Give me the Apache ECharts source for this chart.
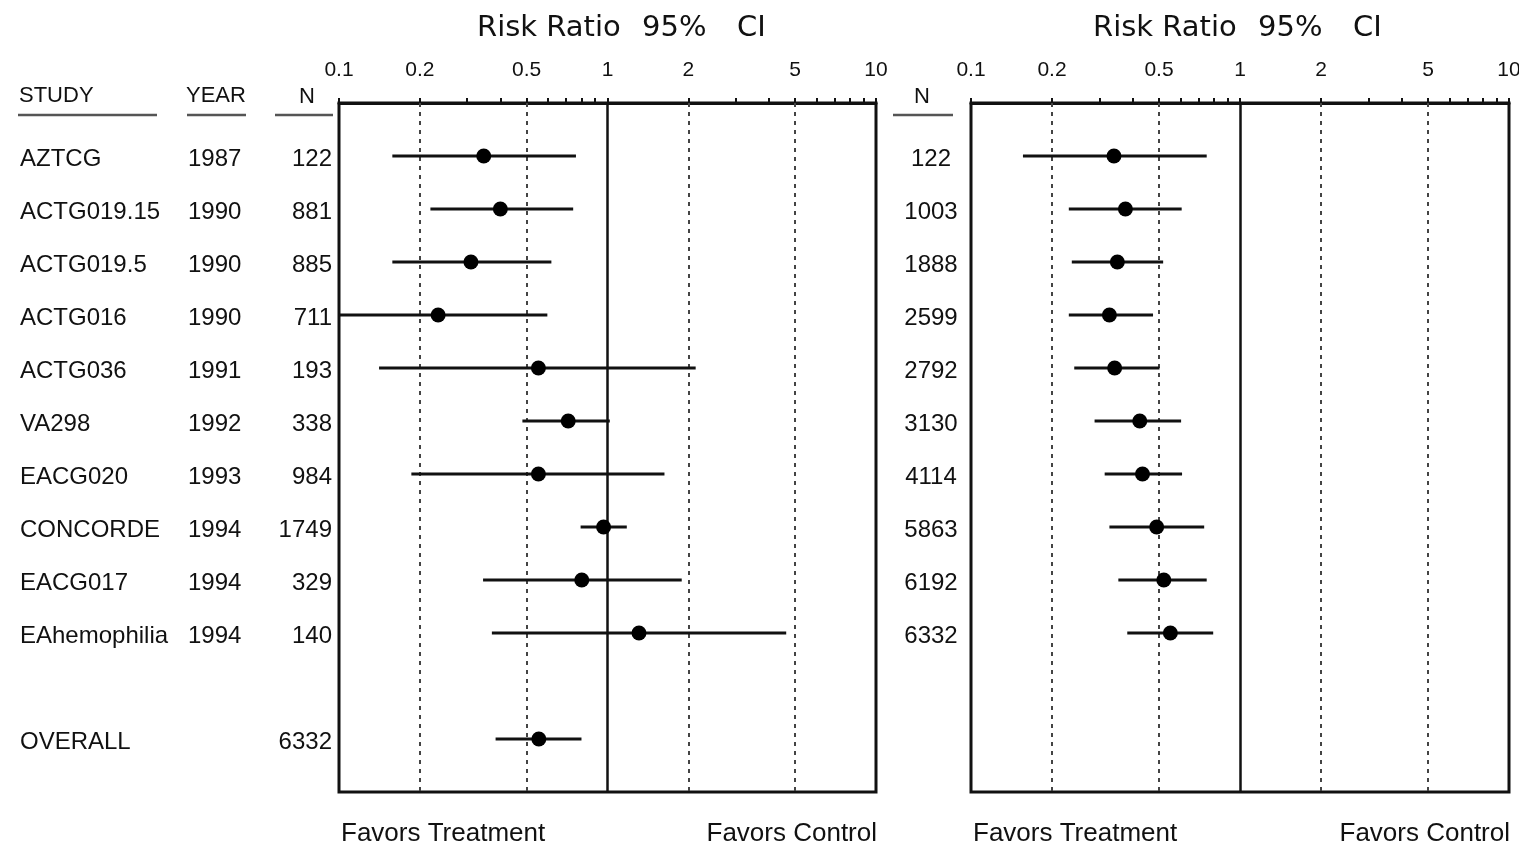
<!DOCTYPE html>
<html>
<head>
<meta charset="utf-8">
<script src="https://cdn.jsdelivr.net/npm/echarts@6/dist/echarts.min.js"></script>
<style>
html,body{margin:0;padding:0;background:#fff;overflow:hidden;}
#chart{width:1519px;height:849px;}
</style>
</head>
<body>
<div id="chart"></div>
<script>
// ---------- DATA ----------
const studies = ['AZTCG','ACTG019.15','ACTG019.5','ACTG016','ACTG036','VA298','EACG020','CONCORDE','EACG017','EAhemophilia','OVERALL'];
const years   = ['1987','1990','1990','1990','1991','1992','1993','1994','1994','1994',''];
const nLeft   = ['122','881','885','711','193','338','984','1749','329','140','6332'];
const rowsLeft = [0,1,2,3,4,5,6,7,8,9,11];

const leftLo = [0.158, 0.219, 0.158, 0.10, 0.141, 0.482, 0.186, 0.794, 0.344, 0.371, 0.383];
const leftPt = [0.346, 0.399, 0.310, 0.234, 0.553, 0.714, 0.553, 0.967, 0.802, 1.31, 0.555];
const leftHi = [0.763, 0.745, 0.618, 0.597, 2.13, 1.02, 1.63, 1.18, 1.89, 4.63, 0.80];

const nRight  = ['122','1003','1888','2599','2792','3130','4114','5863','6192','6332'];
const rowsRight = [0,1,2,3,4,5,6,7,8,9];
const rightLo = [0.156, 0.231, 0.237, 0.231, 0.242, 0.288, 0.314, 0.327, 0.353, 0.381];
const rightPt = [0.340, 0.375, 0.350, 0.327, 0.342, 0.424, 0.434, 0.490, 0.521, 0.551];
const rightHi = [0.752, 0.607, 0.518, 0.475, 0.502, 0.604, 0.609, 0.736, 0.752, 0.795];

const tickValues  = [0.1,0.2,0.3,0.4,0.5,0.6,0.7,0.8,0.9,1,2,3,4,5,6,7,8,9,10];
const labelValues = [0.1,0.2,0.5,1,2,5,10];
const dashedRefs  = [0.2,0.5,2,5];
const solidRef    = [1];
const titleParts  = ['Risk Ratio','95%','CI'];

// ---------- STYLE ----------
const FONT = '"Liberation Sans", Arial, sans-serif';
const TFONT = '"DejaVu Sans", sans-serif';
const INK = '#111';

const chart = echarts.init(document.getElementById('chart'));

function xAxisCfg(gi){
  return {
    type:'log', logBase:10, gridIndex:gi, position:'top', min:0.1, max:10,
    axisLine:{show:true, onZero:false, lineStyle:{color:INK, width:3}},
    axisTick:{show:true, inside:false, length:5, lineStyle:{color:INK, width:2}, customValues:tickValues},
    axisLabel:{show:true, margin:22, customValues:labelValues, formatter:v=>String(+v.toPrecision(3)),
      color:INK, fontSize:21, fontFamily:FONT},
    splitLine:{show:false}, minorTick:{show:false}, minorSplitLine:{show:false}
  };
}
function yAxisCfg(gi){
  return {type:'value', gridIndex:gi, min:-1, max:12, inverse:true, show:false};
}

function barSeries(gi, lo, hi, rows){
  return {
    type:'custom', xAxisIndex:gi, yAxisIndex:gi, silent:true, z:5,
    clip:true,
    data: rows.map((r,i)=>[lo[i], hi[i], r]),
    encode:{x:[0,1], y:2},
    renderItem:(params, api)=>{
      const p1 = api.coord([api.value(0), api.value(2)]);
      const p2 = api.coord([api.value(1), api.value(2)]);
      return {type:'line', shape:{x1:p1[0], y1:p1[1], x2:p2[0], y2:p2[1]},
        style:{stroke:INK, lineWidth:3}};
    },
    markLine:{
      silent:true, symbol:'none', label:{show:false}, animation:false,
      data: dashedRefs.map(v=>({xAxis:v, lineStyle:{type:[4,5], width:2, color:'#444'}}))
        .concat(solidRef.map(v=>({xAxis:v, lineStyle:{type:'solid', width:2.5, color:INK}})))
    }
  };
}
function dotSeries(gi, pt, rows){
  return {
    type:'scatter', xAxisIndex:gi, yAxisIndex:gi, silent:true, z:6,
    symbol:'circle', symbolSize:15,
    itemStyle:{color:'#000', opacity:1},
    data: rows.map((r,i)=>[pt[i], r])
  };
}
function textSeries(gi, texts, rows, x, align, size){
  return {
    type:'custom', xAxisIndex:gi, yAxisIndex:gi, silent:true, clip:false, z:7,
    data: rows.map(r=>[1, r]),
    encode:{x:0, y:1},
    renderItem:(params, api)=>{
      const y = api.coord([1, api.value(1)])[1];
      return {type:'text', x:x, y:y+3,
        style:{text:texts[params.dataIndex], fill:INK, font:`${size}px ${FONT}`,
          textAlign:align, textVerticalAlign:'middle'}};
    }
  };
}

function txt(left, top, text, size, align, family){
  return {type:'text', x:left, y:top, silent:true,
    style:{text:text, fill:INK, font:`${size}px ${family||FONT}`, textAlign:align||'left', textVerticalAlign:'middle'}};
}
function uline(x1,x2,y){
  return {type:'line', silent:true, shape:{x1:x1,y1:y,x2:x2,y2:y}, style:{stroke:'#555', lineWidth:2.5}};
}
function title(x0){
  return [
    txt(x0, 28, titleParts[0], 29, 'left', TFONT),
    txt(x0+165, 28, titleParts[1], 29, 'left', TFONT),
    txt(x0+260, 28, titleParts[2], 29, 'left', TFONT)
  ];
}

const gridBase = {top:103, height:689, show:true, borderColor:INK, borderWidth:3,
  backgroundColor:'transparent', containLabel:false, outerBoundsMode:'none'};

const option = {
  backgroundColor:'#fff',
  animation:false,
  grid:[
    Object.assign({left:339, width:537}, gridBase),
    Object.assign({left:971, width:538}, gridBase)
  ],
  xAxis:[xAxisCfg(0), xAxisCfg(1)],
  yAxis:[yAxisCfg(0), yAxisCfg(1)],
  series:[
    barSeries(0, leftLo, leftHi, rowsLeft),
    dotSeries(0, leftPt, rowsLeft),
    barSeries(1, rightLo, rightHi, rowsRight),
    dotSeries(1, rightPt, rowsRight),
    textSeries(0, studies, rowsLeft, 20, 'left', 24),
    textSeries(0, years, rowsLeft, 188, 'left', 24),
    textSeries(0, nLeft, rowsLeft, 332, 'right', 24),
    textSeries(1, nRight, rowsRight, 931, 'center', 24)
  ],
  graphic:[
    ...title(477),
    ...title(1093),
    txt(19, 96, 'STUDY', 22, 'left'),
    txt(186, 96, 'YEAR', 22, 'left'),
    txt(307, 97, 'N', 22, 'center'),
    txt(922, 97, 'N', 22, 'center'),
    uline(18,157,115), uline(187,246,115), uline(275,333,115), uline(893,953,115),
    txt(341, 834, 'Favors Treatment', 26, 'left'),
    txt(877, 834, 'Favors Control', 26, 'right'),
    txt(973, 834, 'Favors Treatment', 26, 'left'),
    txt(1510, 834, 'Favors Control', 26, 'right')
  ]
};
chart.setOption(option);
</script>
</body>
</html>
